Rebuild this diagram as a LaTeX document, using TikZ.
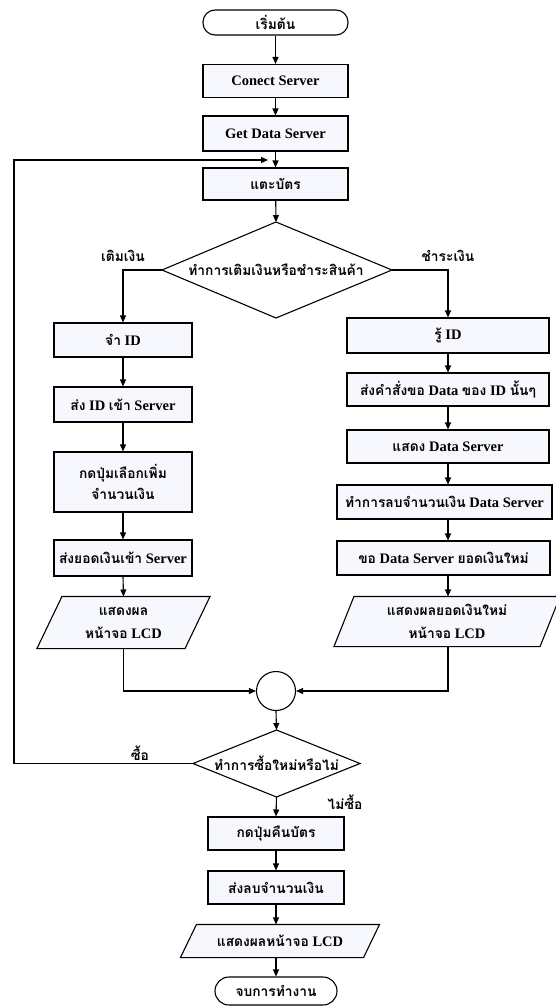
\documentclass[tikz,border=0pt]{standalone}
\usepackage{fontspec}
\setmainfont{Liberation Serif}
\newfontfamily\thaifont[Script=Thai,Scale=0.95]{Loma}
\newcommand{\T}[1]{{\thaifont\bfseries #1}}
\usetikzlibrary{arrows.meta,calc}
\definecolor{boxfill}{RGB}{246,248,253}
\begin{document}
\begin{tikzpicture}[x=1pt,y=-1pt,
  font=\fontsize{14.5}{17}\selectfont\bfseries,
  line width=1.1pt,
  arr/.style={-{Triangle[length=7pt,width=6pt]}},
  procbox/.style={draw,fill=boxfill,rectangle,inner sep=0pt,align=center},
  termbox/.style={draw,fill=white,rectangle,rounded corners=12pt,inner sep=0pt,align=center},
  dia/.style={draw=none,inner sep=0pt,align=center},
  iotext/.style={draw=none,inner sep=0pt,align=center},
  lbl/.style={inner sep=0pt}
]
\useasboundingbox (0,0) rectangle (555,1007);
% main column
\node[termbox,minimum width=145pt,minimum height=25pt] (start) at (275.5,22.5) {\T{เริ่มต้น}};
\node[procbox,minimum width=145pt,minimum height=33pt] (conn) at (275.5,81) {Conect Server};
\node[procbox,minimum width=145pt,minimum height=35pt] (gds) at (275.5,133.5) {Get Data Server};
\node[procbox,minimum width=145pt,minimum height=32pt] (tap) at (275.5,184) {\T{แตะบัตร}};
% decision 1
\coordinate (d1c) at (276,270);
\coordinate (d1n) at (276,222);
\coordinate (d1s) at (276,318);
\coordinate (d1w) at (162,270);
\coordinate (d1e) at (392,270);
\draw[fill=white] (d1n) -- (d1e) -- (d1s) -- (d1w) -- cycle;
\node[dia] (d1) at (d1c) {\T{ทำการเติมเงินหรือชำระสินค้า}};
\node[lbl] (lt) at (123,256) {\T{เติมเงิน}};
\node[lbl] (lp) at (448,256) {\T{ชำระเงิน}};
% left branch
\node[procbox,minimum width=138pt,minimum height=34pt] (L1) at (123,340) {\T{จำ} ID};
\node[procbox,minimum width=138pt,minimum height=35pt] (L2) at (123,404.5) {\T{ส่ง} ID \T{เข้า} Server};
\node[procbox,minimum width=138pt,minimum height=60pt] (L3) at (123,482) {\T{กดปุ่มเลือกเพิ่ม}\\[4pt]\T{จำนวนเงิน}};
\node[procbox,minimum width=138pt,minimum height=36pt] (L4) at (123,558) {\T{ส่งยอดเงินเข้า} Server};
\node[iotext,minimum width=147pt,minimum height=51pt] (L5) at (123.5,622.5) {};
\path[draw,fill=boxfill] ($(L5.north west)+(12.5,0)$) -- ($(L5.north east)+(12.5,0)$) -- ($(L5.south east)-(12.5,0)$) -- ($(L5.south west)-(12.5,0)$) -- cycle;
\node[iotext] at (123.5,622.5) {\T{แสดงผล}\\[6pt]\T{หน้าจอ} LCD};
% right branch
\coordinate (rc) at (448,300);
\node[procbox,minimum width=202pt,minimum height=35pt] (R1) at (448,335.5) {\T{รู้} ID};
\node[procbox,minimum width=202pt,minimum height=33pt] (R2) at (448,389.5) {\T{ส่งคำสั่งขอ} Data \T{ของ} ID \T{นั้นๆ}};
\node[procbox,minimum width=202pt,minimum height=33pt] (R3) at (448,446.5) {\T{แสดง} Data Server};
\node[procbox,minimum width=215pt,minimum height=34pt] (R4) at (444.5,502) {\T{ทำการลบจำนวนเงิน} Data Server};
\node[procbox,minimum width=213pt,minimum height=34pt] (R5) at (443.5,558) {\T{ขอ} Data Server \T{ยอดเงินใหม่}};
\node[iotext,minimum width=205pt,minimum height=49pt] (R6) at (447,621.5) {};
\path[draw,fill=boxfill] ($(R6.north west)+(10,0)$) -- ($(R6.north east)+(10,0)$) -- ($(R6.south east)-(10,0)$) -- ($(R6.south west)-(10,0)$) -- cycle;
\node[iotext] at (447,621.5) {\T{แสดงผลยอดเงินใหม่}\\[6pt]\T{หน้าจอ} LCD};
% connector circle
\node[draw,fill=white,circle,minimum size=39pt,inner sep=0pt] (circ) at (276,691) {};
% decision 2
\coordinate (d2c) at (276.5,763.5);
\coordinate (d2n) at (276.5,730);
\coordinate (d2s) at (276.5,797);
\coordinate (d2w) at (193,763.5);
\coordinate (d2e) at (360,763.5);
\draw[fill=white] (d2n) -- (d2e) -- (d2s) -- (d2w) -- cycle;
\node[dia] (d2) at (d2c) {\T{ทำการซื้อใหม่หรือไม่}};
\node[lbl] (buy) at (140,753) {\T{ซื้อ}};
\node[lbl] (nobuy) at (345,802) {\T{ไม่ซื้อ}};
% end column
\node[procbox,minimum width=136pt,minimum height=33pt] (E1) at (276,833.5) {\T{กดปุ่มคืนบัตร}};
\node[procbox,minimum width=136pt,minimum height=33pt] (E2) at (276,887.5) {\T{ส่งลบจำนวนเงิน}};
\node[iotext,minimum width=182pt,minimum height=32pt] (E3) at (280,941) {};
\path[draw,fill=boxfill] ($(E3.north west)+(8,0)$) -- ($(E3.north east)+(8,0)$) -- ($(E3.south east)-(8,0)$) -- ($(E3.south west)-(8,0)$) -- cycle;
\node[iotext] at (280,941) {\T{แสดงผลหน้าจอ} LCD};
\node[termbox,minimum width=122pt,minimum height=28pt,rounded corners=14pt] (stop) at (276,991) {\T{จบการทำงาน}};
% connectors
\draw[arr] (start) -- (conn);
\draw[arr] (conn) -- (gds);
\draw[arr] (gds) -- (tap);
\draw[arr] (tap) -- (d1n);
\draw[arr] (d1w) -| (L1.north);
\draw[arr] (d1e) -| (R1.north);
\draw[arr] (L1) -- (L2);
\draw[arr] (L2) -- (L3);
\draw[arr] (L3) -- (L4);
\draw[arr] (L4.south) -- (L5.north);
\draw[arr] (R1) -- (R2);
\draw[arr] (R2) -- (R3);
\draw[arr] (R3.south) -- (R3.south |- R4.north);
\draw[arr] (rc |- R4.south) -- (rc |- R5.north);
\draw[arr] (rc |- R5.south) -- (rc |- R6.north);
\draw[arr] (L5.south) |- (circ.west);
\draw[arr] (rc |- R6.south) |- (circ.east);
\draw[arr] (circ.south) -- (d2n);
\coordinate (loopA) at (14,763.5);
\coordinate (loopB) at (14,160);
\coordinate (loopC) at (268,160);
\draw[arr] (d2w) -- (loopA) -- (loopB) -- (loopC);
\draw[arr] (d2s) -- (E1.north);
\draw[arr] (E1) -- (E2);
\draw[arr] (E2) -- (E2 |- E3.north);
\draw[arr] (E2 |- E3.south) -- (stop);
\end{tikzpicture}
\end{document}
